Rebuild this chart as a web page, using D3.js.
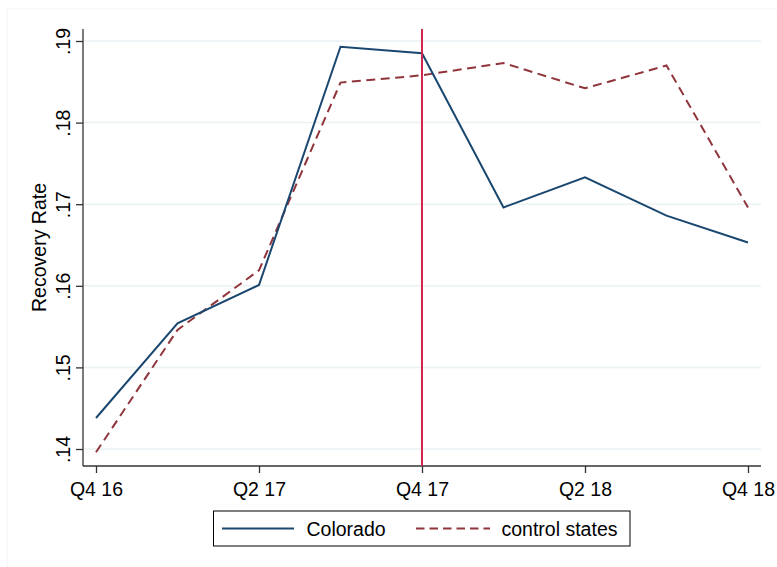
<!DOCTYPE html>
<html>
<head>
<meta charset="utf-8">
<script src="https://cdn.jsdelivr.net/npm/d3@7"></script>
<style>
  html, body { margin: 0; padding: 0; background: #fff; }
  svg { display: block; font-family: "Liberation Sans", Arial, sans-serif; }
</style>
</head>
<body>
<svg id="chart" width="777" height="567"></svg>
<script>
// Quarterly recovery rates, Colorado vs. control states
const quarters = ["Q4 16", "Q1 17", "Q2 17", "Q3 17", "Q4 17", "Q1 18", "Q2 18", "Q3 18", "Q4 18"];
const colorado = [0.1438, 0.1554, 0.1601, 0.1893, 0.1885, 0.1696, 0.1733, 0.1686, 0.1653];
const controlStates = [0.1396, 0.1546, 0.1619, 0.1849, 0.1858, 0.1873, 0.1842, 0.1870, 0.1696];
const yTicks = [0.14, 0.15, 0.16, 0.17, 0.18, 0.19];
const xTickLabels = ["Q4 16", "Q2 17", "Q4 17", "Q2 18", "Q4 18"];
const eventQuarter = "Q4 17";
const seriesNames = ["Colorado", "control states"];

const svg = d3.select("#chart");
const FONT = 19.5;

const plot = { left: 83, right: 761, top: 29, bottom: 466 };

const x = d3.scalePoint().domain(quarters).range([96, 748]);
const y = d3.scaleLinear().domain([0.14, 0.19]).range([449, 41]);

// faint outer graph-region frame
svg.append("rect")
  .attr("x", 7).attr("y", 9).attr("width", 790).attr("height", 580)
  .attr("fill", "none").attr("stroke", "#f1f4f6").attr("stroke-width", 1);

// horizontal gridlines
svg.append("g").selectAll("line").data(yTicks).join("line")
  .attr("x1", plot.left).attr("x2", plot.right)
  .attr("y1", d => y(d)).attr("y2", d => y(d))
  .attr("stroke", "#eaf2f3").attr("stroke-width", 1.5);

// y axis
const yAxis = svg.append("g")
  .attr("transform", `translate(${plot.left},0)`)
  .call(d3.axisLeft(y).tickValues(yTicks).tickSize(7).tickPadding(0)
    .tickFormat(d => d3.format(".2f")(d).replace(/^0/, "")));
yAxis.select(".domain").attr("d", `M0,${plot.top}V${plot.bottom}`)
  .attr("stroke", "#333").attr("stroke-width", 1.3);
yAxis.selectAll(".tick line").attr("stroke", "#333").attr("stroke-width", 1.3);
yAxis.selectAll(".tick text")
  .attr("x", null).attr("dy", null)
  .attr("transform", "translate(-13,0) rotate(-90)")
  .attr("text-anchor", "middle")
  .attr("font-size", FONT).attr("fill", "#000")
  .attr("font-family", "Liberation Sans, Arial, sans-serif");

// x axis
const xAxis = svg.append("g")
  .attr("transform", `translate(0,${plot.bottom})`)
  .call(d3.axisBottom(x).tickValues(xTickLabels).tickSize(7).tickPadding(0));
xAxis.select(".domain").attr("d", `M${plot.left},0H${plot.right}`)
  .attr("stroke", "#333").attr("stroke-width", 1.3);
xAxis.selectAll(".tick line").attr("stroke", "#333").attr("stroke-width", 1.3);
xAxis.selectAll(".tick text")
  .attr("y", 30).attr("dy", null)
  .attr("font-size", FONT).attr("fill", "#000")
  .attr("font-family", "Liberation Sans, Arial, sans-serif");

// y axis title
svg.append("text")
  .attr("transform", `translate(46,${(plot.top + plot.bottom) / 2}) rotate(-90)`)
  .attr("text-anchor", "middle")
  .attr("font-size", FONT).attr("fill", "#000")
  .text("Recovery Rate");

// series lines
const line = d3.line().x((d, i) => x(quarters[i])).y(d => y(d));

svg.append("path").datum(controlStates)
  .attr("d", line).attr("fill", "none")
  .attr("stroke", "#90353b").attr("stroke-width", 2)
  .attr("stroke-dasharray", "9,5.5");

svg.append("path").datum(colorado)
  .attr("d", line).attr("fill", "none")
  .attr("stroke", "#1a476f").attr("stroke-width", 2)
  .attr("stroke-linejoin", "miter");

// event marker
svg.append("line")
  .attr("x1", x(eventQuarter)).attr("x2", x(eventQuarter))
  .attr("y1", plot.top).attr("y2", plot.bottom)
  .attr("stroke", "#d1284f").attr("stroke-width", 2);

// legend
const legend = svg.append("g");
legend.append("rect")
  .attr("x", 213.5).attr("y", 511).attr("width", 416.5).attr("height", 35)
  .attr("fill", "#fff").attr("stroke", "#000").attr("stroke-width", 1);
const legendItems = [
  { name: seriesNames[0], color: "#1a476f", dash: null, x0: 222, x1: 294, tx: 306.5 },
  { name: seriesNames[1], color: "#90353b", dash: "8.5,5", x0: 416, x1: 490, tx: 501.5 }
];
legendItems.forEach(it => {
  legend.append("line")
    .attr("x1", it.x0).attr("x2", it.x1).attr("y1", 528.5).attr("y2", 528.5)
    .attr("stroke", it.color).attr("stroke-width", 2)
    .attr("stroke-dasharray", it.dash);
  legend.append("text")
    .attr("x", it.tx).attr("y", 535.8)
    .attr("font-size", FONT).attr("fill", "#000")
    .text(it.name);
});
</script>
</body>
</html>
